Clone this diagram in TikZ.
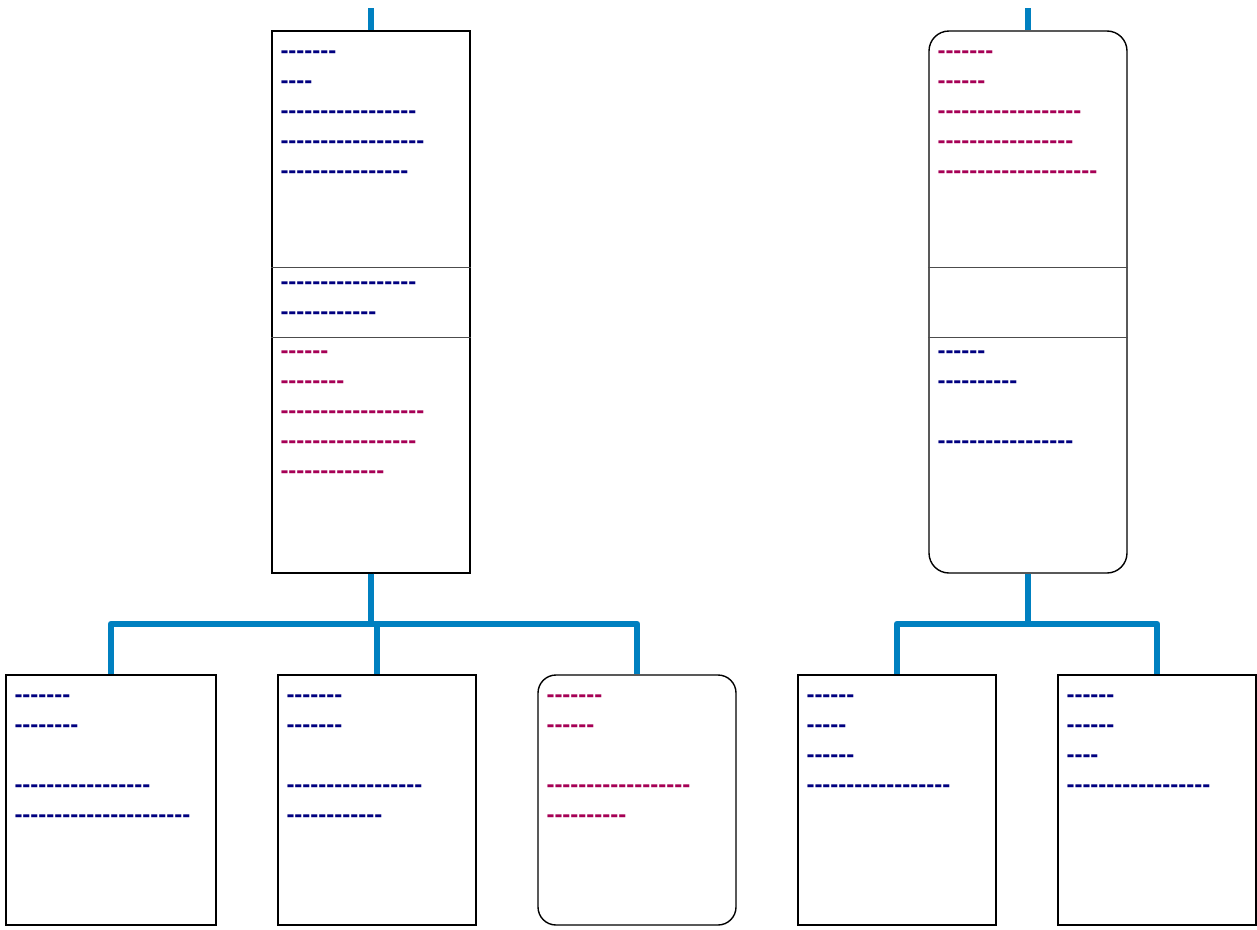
\documentclass[tikz,border=0pt]{standalone}
\usepackage{fontspec}
\usetikzlibrary{positioning}
\newfontfamily\dashfont{Liberation Sans}[Ligatures=TeXOff]
\definecolor{LinkBlue}{RGB}{0,128,192}
\definecolor{NavyInk}{RGB}{0,0,128}
\definecolor{WineInk}{RGB}{166,0,85}
\tikzset{
    card/.style={draw=black, line width=1.4pt, fill=white, minimum width=198pt, inner sep=0pt},
    link/.style={draw=LinkBlue, line width=6pt, line join=round}
}

\begin{document}
\begin{tikzpicture}[
        x=1pt, y=-1pt,
        % --- STYLE ---
        divider/.style={draw=black!70, line width=0.8pt},
        navy_text/.style={
            text=NavyInk,
            font=\dashfont\bfseries\fontsize{24}{30}\selectfont,
            inner sep=0pt,
            align=left
        },
        wine_text/.style={navy_text, text=WineInk}
    ]
    \useasboundingbox (0,0) rectangle (1257,929);

        % --- TOP CARDS ---
        \node[card, minimum height=542pt] (left) at (371,302) {};
        \node[card, minimum height=542pt, rounded corners=20pt] (right) at (1028,302) {};

        \draw[divider] ([yshift=-237pt]left.north west) -- ([yshift=-237pt]left.north east);
        \draw[divider] ([yshift=-307pt]left.north west) -- ([yshift=-307pt]left.north east);
        \draw[divider] ([yshift=-237pt]right.north west) -- ([yshift=-237pt]right.north east);
        \draw[divider] ([yshift=-307pt]right.north west) -- ([yshift=-307pt]right.north east);

        % --- BOTTOM CARDS ---
        \node[card, minimum width=210pt, minimum height=250pt] (c1) at (111,800) {};
        \node[card, minimum height=250pt] (c2) at (377,800) {};
        \node[card, minimum height=250pt, rounded corners=18pt] (c3) at (637,800) {};
        \node[card, minimum height=250pt] (c4) at (897,800) {};
        \node[card, minimum height=250pt] (c5) at (1157,800) {};

        % --- CONNECTORS ---
        \draw[link] (left.north) -- ++(0,-22);
        \draw[link] (right.north) -- ++(0,-22);
        \draw[link] (left.south) -- ++(0,50) -| (c1.north);
        \draw[link] (left.south) -- ++(0,50) -| (c2.north);
        \draw[link] (left.south) -- ++(0,50) -| (c3.north);
        \draw[link] (right.south) -- ++(0,50) -| (c4.north);
        \draw[link] (right.south) -- ++(0,50) -| (c5.north);

        % --- TEXT ---
        \node[navy_text, below right=20pt and 9pt of left.north west] (left_a)
            {-------\\----\\-----------------\\------------------\\----------------};
        \node[navy_text, below right=251pt and 9pt of left.north west] (left_b)
            {-----------------\\------------};
        \node[wine_text, below right=320pt and 9pt of left.north west] (left_c)
            {------\\--------\\------------------\\-----------------\\-------------};

        \node[wine_text, below right=20pt and 9pt of right.north west] (right_a)
            {-------\\------\\------------------\\-----------------\\--------------------};
        \node[navy_text, below right=320pt and 9pt of right.north west] (right_c)
            {------\\----------\\[30pt]-----------------};

        \node[navy_text, below right=20pt and 9pt of c1.north west] (c1_text)
            {-------\\--------\\[30pt]-----------------\\----------------------};
        \node[navy_text, below right=20pt and 9pt of c2.north west] (c2_text)
            {-------\\-------\\[30pt]-----------------\\------------};
        \node[wine_text, below right=20pt and 9pt of c3.north west] (c3_text)
            {-------\\------\\[30pt]------------------\\----------};
        \node[navy_text, below right=20pt and 9pt of c4.north west] (c4_text)
            {------\\-----\\------\\------------------};
        \node[navy_text, below right=20pt and 9pt of c5.north west] (c5_text)
            {------\\------\\----\\------------------};

\end{tikzpicture}
\end{document}
